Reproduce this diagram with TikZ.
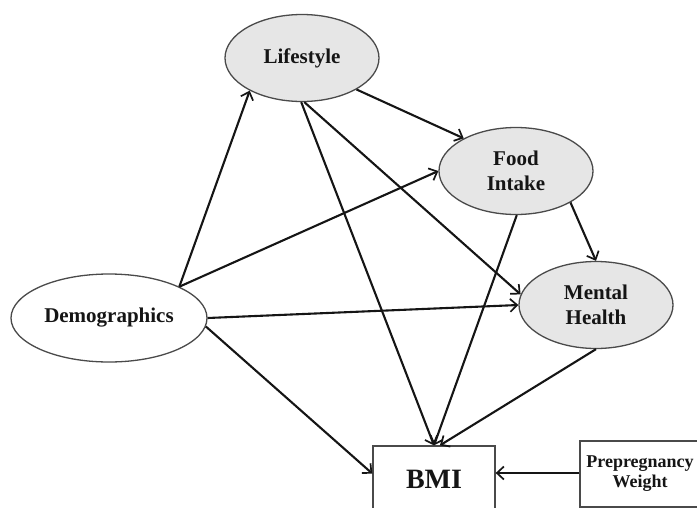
\documentclass[tikz,border=0pt]{standalone}
\usepackage{fontspec}
\setmainfont{Liberation Serif}
\usetikzlibrary{shapes.geometric,arrows.meta}
\definecolor{varfill}{HTML}{E6E6E6}
\definecolor{varedge}{HTML}{4A4A4A}
\definecolor{ink}{HTML}{151515}
\tikzset{
  latent/.style={ellipse, draw=varedge, line width=1.3pt, fill=varfill, inner sep=0pt,
    minimum width=154pt, minimum height=87pt, align=center, text=ink,
    font=\fontsize{21}{25}\selectfont\bfseries},
  exo/.style={latent, fill=white, minimum width=196pt, minimum height=88pt},
  outbox/.style={rectangle, draw=varedge, line width=1.3pt, fill=white, inner sep=0pt, align=center, text=ink},
  arr/.style={draw=ink, line width=2.1pt, -{Straight Barb[length=7pt,width=13pt,line width=1.7pt]}}
}
\begin{document}
\begin{tikzpicture}[x=1pt,y=1pt]
  \useasboundingbox (0,0) rectangle (697,-507);
  % variables
  \node[latent] (life) at (302,-58) {Lifestyle};
  \node[latent] (food) at (516,-171) {Food\\Intake};
  \node[latent] (ment) at (596,-305) {Mental\\Health};
  \node[exo] (demo) at (109,-318) {Demographics};
  \node[outbox, minimum width=122pt, minimum height=66pt,
        font=\fontsize{28}{30}\selectfont\bfseries] (bmi) at (434,-479) {BMI};
  \node[outbox, minimum width=120pt, minimum height=66pt,
        font=\fontsize{18}{20}\selectfont\bfseries] (pre) at (640,-474) {Prepregnancy\\Weight};
  % paths from Demographics
  \draw[arr] (demo.24) -- (life.212);
  \draw[arr] (demo.24) -- (food.180);
  \draw[arr] (demo.0) -- (ment.180);
  \draw[arr] (demo.355) -- (bmi.175);
  % paths from Lifestyle
  \draw[arr] (life.330) -- (food.148);
  \draw[arr] (life.273) -- (ment.172);
  \draw[arr] (life.269) -- (bmi.north);
  % paths from Food Intake
  \draw[arr] (food.330) -- (ment.north);
  \draw[arr] (food.271) -- (bmi.north);
  % paths from Mental Health
  \draw[arr] (ment.south) -- (bmi.80);
  % prepregnancy weight
  \draw[arr] ([yshift=1pt]pre.west) -- ([yshift=1pt]pre.west -| bmi.east);
\end{tikzpicture}
\end{document}
